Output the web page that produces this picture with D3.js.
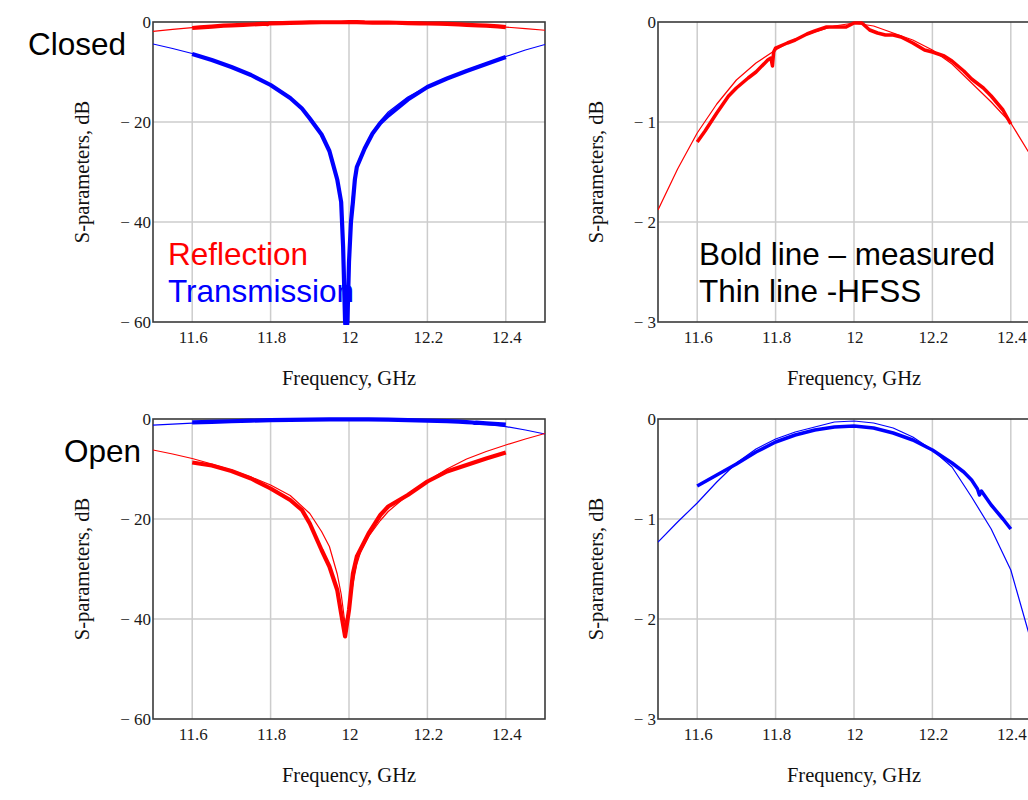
<!DOCTYPE html>
<html><head><meta charset="utf-8">
<script src="https://cdn.jsdelivr.net/npm/d3@7"></script>
<style>body{margin:0;background:#fff;overflow:hidden;} svg{display:block;}</style>
</head><body>
<script>
// ---------------- DATA ----------------
const xTicks = [11.6, 11.8, 12.0, 12.2, 12.4];
const xTickLabels = ["11.6", "11.8", "12", "12.2", "12.4"];
const yTicksWide = [0, -20, -40, -60];
const yTicksNarrow = [0, -1, -2, -3];
const xTitle = "Frequency, GHz";
const yTitle = "S-parameters, dB";

// Closed state – reflection (HFSS, thin)
const closedReflHfssF = [11.5, 11.55, 11.6, 11.65, 11.7, 11.75, 11.8, 11.85, 11.9, 11.95, 12.0, 12.05, 12.1, 12.15, 12.2, 12.25, 12.3, 12.35, 12.4, 12.45, 12.5];
const closedReflHfssV = [-1.88, -1.47, -1.11, -0.82, -0.58, -0.41, -0.28, -0.17, -0.10, -0.04, -0.01, -0.04, -0.11, -0.18, -0.28, -0.42, -0.61, -0.80, -1.01, -1.33, -1.65];
// Closed state – reflection (measured, bold)
const closedReflMeasF = [11.6, 11.62, 11.65, 11.68, 11.7, 11.73, 11.75, 11.78, 11.788, 11.792, 11.795, 11.8, 11.83, 11.85, 11.88, 11.9, 11.93, 11.95, 11.98, 12.0, 12.02, 12.04, 12.06, 12.08, 12.1, 12.12, 12.15, 12.18, 12.2, 12.23, 12.25, 12.28, 12.3, 12.33, 12.35, 12.38, 12.4];
const closedReflMeasV = [-1.20, -1.09, -0.91, -0.74, -0.66, -0.56, -0.50, -0.38, -0.36, -0.44, -0.30, -0.26, -0.21, -0.18, -0.12, -0.09, -0.05, -0.05, -0.05, -0.01, -0.01, -0.08, -0.11, -0.13, -0.13, -0.15, -0.21, -0.28, -0.30, -0.34, -0.39, -0.49, -0.57, -0.66, -0.74, -0.88, -1.02];
// Closed state – transmission (HFSS, thin)
const closedTransHfssF = [11.5, 11.55, 11.6, 11.65, 11.7, 11.75, 11.8, 11.85, 11.9, 11.93, 11.95, 11.97, 11.98, 11.985, 11.99, 11.994, 11.998, 12.002, 12.006, 12.01, 12.02, 12.04, 12.06, 12.08, 12.1, 12.15, 12.2, 12.25, 12.3, 12.35, 12.4, 12.45, 12.5];
const closedTransHfssV = [-4.4, -5.3, -6.3, -7.5, -8.9, -10.6, -12.5, -15.0, -19.0, -22.5, -26.0, -31.0, -36.0, -42.0, -52.0, -62.0, -52.0, -42.0, -37.0, -34.0, -29.5, -25.0, -22.0, -19.8, -18.0, -15.0, -12.9, -11.2, -9.6, -8.2, -6.9, -5.6, -4.5];
// Closed state – transmission (measured, bold)
const closedTransMeasF = [11.6, 11.65, 11.7, 11.75, 11.8, 11.85, 11.88, 11.9, 11.93, 11.95, 11.97, 11.98, 11.985, 11.99, 11.993, 11.996, 12.0, 12.005, 12.01, 12.015, 12.02, 12.04, 12.06, 12.08, 12.1, 12.15, 12.2, 12.25, 12.3, 12.35, 12.4];
const closedTransMeasV = [-6.4, -7.6, -9.0, -10.6, -12.6, -15.2, -17.3, -19.3, -22.5, -25.8, -31.5, -36.0, -45.0, -60.0, -62.0, -60.0, -48.0, -40.0, -36.0, -31.5, -29.0, -25.3, -22.3, -20.2, -18.7, -15.5, -13.0, -11.3, -9.8, -8.4, -7.0];

// Open state – reflection (HFSS, thin)
const openReflHfssF = [11.5, 11.55, 11.6, 11.65, 11.7, 11.75, 11.8, 11.85, 11.9, 11.93, 11.95, 11.97, 11.98, 11.99, 12.0, 12.01, 12.02, 12.03, 12.05, 12.08, 12.1, 12.15, 12.2, 12.25, 12.3, 12.35, 12.4, 12.45, 12.5];
const openReflHfssV = [-6.2, -7.0, -7.9, -9.0, -10.2, -11.6, -13.2, -15.3, -18.9, -22.5, -25.5, -31.0, -35.0, -41.0, -38.0, -33.0, -29.0, -26.5, -23.5, -20.3, -18.5, -15.2, -12.4, -10.0, -8.0, -6.5, -5.2, -4.0, -2.9];
// Open state – reflection (measured, bold)
const openReflMeasF = [11.6, 11.65, 11.7, 11.75, 11.8, 11.85, 11.88, 11.9, 11.93, 11.95, 11.97, 11.98, 11.99, 12.0, 12.01, 12.02, 12.05, 12.08, 12.1, 12.15, 12.2, 12.25, 12.3, 12.35, 12.4];
const openReflMeasV = [-8.7, -9.3, -10.4, -11.9, -13.9, -16.2, -18.2, -20.9, -26.2, -29.5, -34.2, -38.9, -43.5, -38.2, -30.9, -27.5, -22.9, -19.2, -17.5, -15.2, -12.5, -10.5, -9.2, -7.9, -6.7];
// Open state – transmission (HFSS, thin)
const openTransHfssF = [11.5, 11.55, 11.6, 11.65, 11.7, 11.75, 11.8, 11.85, 11.9, 11.95, 12.0, 12.05, 12.1, 12.15, 12.2, 12.25, 12.3, 12.35, 12.4, 12.45, 12.5];
const openTransHfssV = [-1.23, -1.03, -0.84, -0.63, -0.44, -0.30, -0.20, -0.13, -0.08, -0.03, -0.02, -0.04, -0.09, -0.18, -0.31, -0.48, -0.78, -1.10, -1.51, -2.20, -3.0];
// Open state – transmission (measured, bold)
const openTransMeasF = [11.6, 11.65, 11.7, 11.75, 11.8, 11.85, 11.9, 11.95, 12.0, 12.05, 12.1, 12.15, 12.2, 12.25, 12.28, 12.3, 12.315, 12.32, 12.325, 12.35, 12.38, 12.4];
const openTransMeasV = [-0.67, -0.56, -0.45, -0.33, -0.23, -0.16, -0.11, -0.08, -0.07, -0.09, -0.14, -0.21, -0.31, -0.44, -0.53, -0.61, -0.70, -0.76, -0.72, -0.86, -1.00, -1.10];

const annotations = [
  {panel: 0, text: "Closed", color: "#000", x: 28, y: 55},
  {panel: 0, text: "Reflection", color: "#ff0000", x: 168, y: 265},
  {panel: 0, text: "Transmission", color: "#0000ff", x: 168, y: 302},
  {panel: 1, text: "Bold line \u2013 measured", color: "#000", x: 699, y: 265},
  {panel: 1, text: "Thin line -HFSS", color: "#000", x: 699, y: 302},
  {panel: 2, text: "Open", color: "#000", x: 64, y: 462}
];

// ---------------- DRAWING ----------------
const W = 1028, H = 800;
const svg = d3.select("body").append("svg").attr("width", W).attr("height", H);
const RED = "#ff0000", BLUE = "#0000ff";
const serif = "'Liberation Serif', 'Times New Roman', serif";
const sans = "'Liberation Sans', Arial, sans-serif";

const zip = (f, v) => f.map((d, i) => [d, v[i]]);

const panels = [
  {x0: 153, y0: 22, w: 392, h: 300, dom: [-60, 0], ticks: yTicksWide, ytx: 89,
   series: [
     {d: zip(closedReflHfssF, closedReflHfssV), c: RED, sw: 1.2},
     {d: zip(closedReflMeasF, closedReflMeasV), c: RED, sw: 4.2},
     {d: zip(closedTransHfssF, closedTransHfssV), c: BLUE, sw: 1.2},
     {d: zip(closedTransMeasF, closedTransMeasV), c: BLUE, sw: 4.2}
   ]},
  {x0: 658, y0: 22, w: 392, h: 300, dom: [-3, 0], ticks: yTicksNarrow, ytx: 603,
   series: [
     {d: zip(closedReflHfssF, closedReflHfssV), c: RED, sw: 1.2},
     {d: zip(closedReflMeasF, closedReflMeasV), c: RED, sw: 3.5}
   ]},
  {x0: 153, y0: 419, w: 392, h: 300, dom: [-60, 0], ticks: yTicksWide, ytx: 89,
   series: [
     {d: zip(openTransHfssF, openTransHfssV), c: BLUE, sw: 1.2},
     {d: zip(openTransMeasF, openTransMeasV), c: BLUE, sw: 4.2},
     {d: zip(openReflHfssF, openReflHfssV), c: RED, sw: 1.2},
     {d: zip(openReflMeasF, openReflMeasV), c: RED, sw: 4.2}
   ]},
  {x0: 658, y0: 419, w: 392, h: 300, dom: [-3, 0], ticks: yTicksNarrow, ytx: 603,
   series: [
     {d: zip(openTransHfssF, openTransHfssV), c: BLUE, sw: 1.2},
     {d: zip(openTransMeasF, openTransMeasV), c: BLUE, sw: 3.5}
   ]}
];

const fmtY = v => v < 0 ? "\u2212 " + Math.abs(v) : String(v);

panels.forEach((p, pi) => {
  const x = d3.scaleLinear().domain([11.5, 12.5]).range([p.x0, p.x0 + p.w]);
  const y = d3.scaleLinear().domain(p.dom).range([p.y0 + p.h, p.y0]);
  const g = svg.append("g");

  // grid
  g.selectAll(".gx").data(xTicks).enter().append("line")
    .attr("x1", d => x(d)).attr("x2", d => x(d))
    .attr("y1", p.y0).attr("y2", p.y0 + p.h)
    .attr("stroke", "#cccccc").attr("stroke-width", 1.5);
  g.selectAll(".gy").data(p.ticks.filter(t => t !== p.dom[0] && t !== p.dom[1])).enter().append("line")
    .attr("x1", p.x0).attr("x2", p.x0 + p.w)
    .attr("y1", d => y(d)).attr("y2", d => y(d))
    .attr("stroke", "#cccccc").attr("stroke-width", 1.5);

  // frame
  g.append("rect").attr("x", p.x0).attr("y", p.y0).attr("width", p.w).attr("height", p.h)
    .attr("fill", "none").attr("stroke", "#3a3a3a").attr("stroke-width", 1.6);

  // clip
  const cid = "clip" + pi;
  svg.append("clipPath").attr("id", cid).append("rect")
    .attr("x", p.x0).attr("y", p.y0 - 3).attr("width", p.w).attr("height", p.h + 6);

  const line = d3.line().x(d => x(d[0])).y(d => y(d[1]));
  const lg = g.append("g").attr("clip-path", `url(#${cid})`);
  p.series.forEach(s => {
    lg.append("path").attr("d", line(s.d)).attr("fill", "none")
      .attr("stroke", s.c).attr("stroke-width", s.sw)
      .attr("stroke-linejoin", "round").attr("stroke-linecap", "butt");
  });

  // x tick labels
  g.selectAll(".xl").data(xTicks).enter().append("text")
    .attr("x", d => x(d) + 1).attr("y", p.y0 + p.h + 21)
    .attr("text-anchor", "middle").attr("font-family", serif).attr("font-size", 17)
    .attr("fill", "#1a1a1a").text((d, i) => xTickLabels[i]);
  // y tick labels
  g.selectAll(".yl").data(p.ticks).enter().append("text")
    .attr("x", p.x0 - 2).attr("y", d => y(d) + 6)
    .attr("text-anchor", "end").attr("font-family", serif).attr("font-size", 17)
    .attr("fill", "#1a1a1a").text(d => fmtY(d));

  // axis titles
  g.append("text").attr("x", p.x0 + p.w / 2).attr("y", p.y0 + p.h + 63)
    .attr("text-anchor", "middle").attr("font-family", serif).attr("font-size", 20.5)
    .attr("fill", "#111").text(xTitle);
  g.append("text").attr("transform", `translate(${p.ytx},${p.y0 + p.h / 2}) rotate(-90)`)
    .attr("text-anchor", "middle").attr("font-family", serif).attr("font-size", 20.5)
    .attr("fill", "#111").text(yTitle);
});

// annotations
svg.selectAll(".ann").data(annotations).enter().append("text")
  .attr("x", d => d.x).attr("y", d => d.y)
  .attr("font-family", sans).attr("font-size", 31.5)
  .attr("fill", d => d.color).text(d => d.text);
</script>
</body></html>
